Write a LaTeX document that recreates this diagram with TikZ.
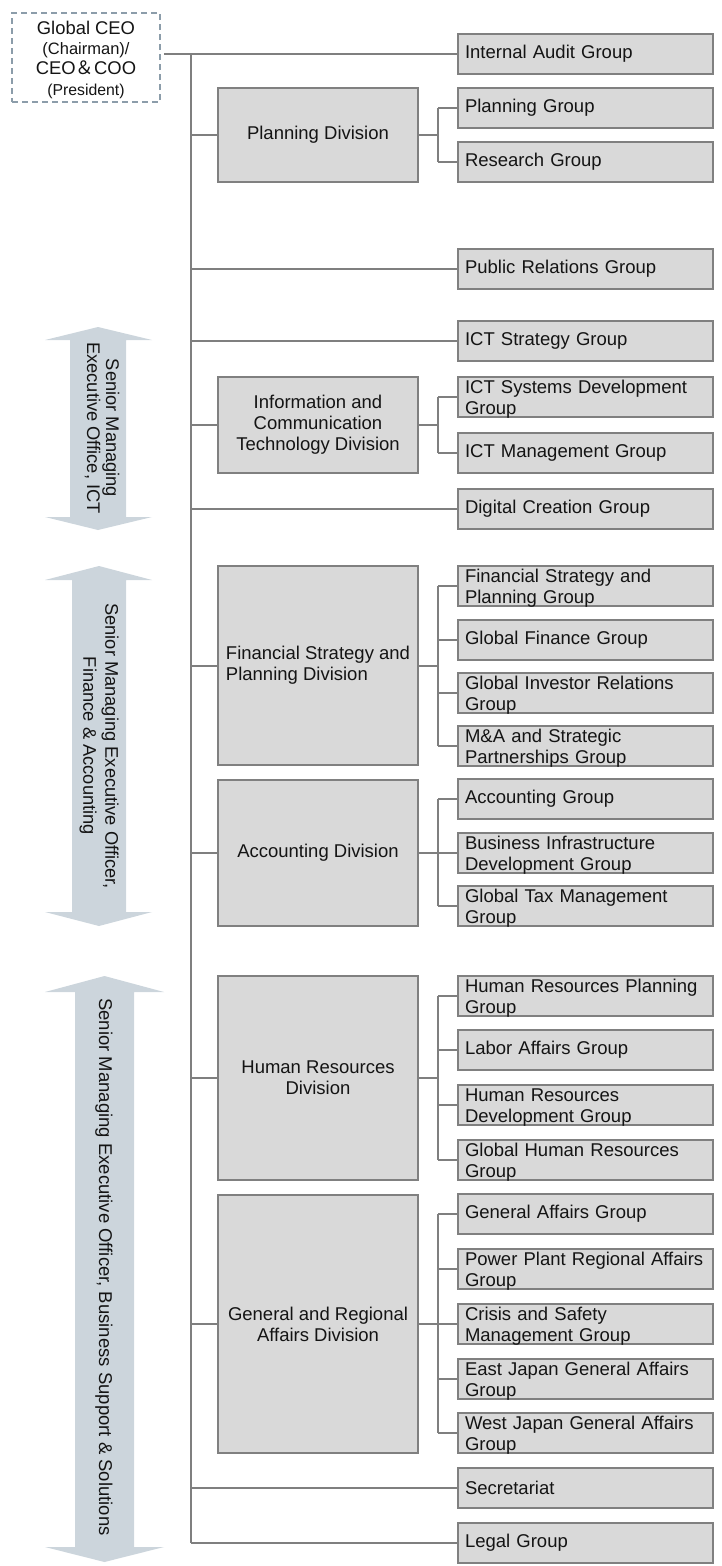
\documentclass[tikz,border=0pt]{standalone}
\usepackage{fontspec}
\setmainfont{Liberation Sans}
\newfontfamily\cjk{Noto Sans CJK JP}
\definecolor{boxfill}{RGB}{217,217,217}
\definecolor{boxline}{RGB}{128,128,128}
\definecolor{connc}{RGB}{127,127,127}
\definecolor{ceoline}{RGB}{140,157,170}
\definecolor{arrowfill}{RGB}{204,213,220}
\definecolor{txt}{RGB}{20,20,20}
\newcommand\divlinks[3]{%
  \draw[conn] (#1.east) -- (jx |- #1.east);
  \draw[conn] (jx |- #2.west) -- (jx |- #3.west);}
\newcommand\grpend{\par\vspace*{-5pt}}
\begin{document}
\begin{tikzpicture}[x=1pt,y=-1pt,
  every node/.style={text=txt, font=\fontsize{18.5}{21}\selectfont},
  grp/.style={draw=boxline, fill=boxfill, line width=1.5pt, minimum width=255pt, minimum height=40pt, inner xsep=7pt, inner ysep=0pt, text width=241pt, align=left},
  grptwo/.style={grp, execute at end node=\grpend},
  div/.style={draw=boxline, fill=boxfill, line width=1.5pt, minimum width=200pt, align=center, inner sep=0pt},
  ceobox/.style={draw=ceoline, line width=1.5pt, dash pattern=on 6pt off 4pt, minimum width=148pt, minimum height=89pt},
  conn/.style={draw=connc, line width=2pt},
  trunkline/.style={draw=connc, line width=2.6pt},
  sidetxt/.style={rotate=-90, align=center},
  arrowbody/.style={fill=arrowfill}
]
\useasboundingbox (0,0) rectangle (721,1566);

% side arrows
\fill[arrowbody] (98,327) -- (152,340) -- (126,340) -- (126,517) -- (152,517) -- (98,530) -- (45,517) -- (70,517) -- (70,340) -- (45,340) -- cycle;
\fill[arrowbody] (99,566) -- (152,580) -- (126,580) -- (126,912) -- (152,912) -- (99,926) -- (45,912) -- (72,912) -- (72,580) -- (45,580) -- cycle;
\fill[arrowbody] (104.5,976) -- (164,992) -- (134,992) -- (134,1547) -- (164,1547) -- (104.5,1562) -- (45,1547) -- (75,1547) -- (75,992) -- (45,992) -- cycle;
\node[sidetxt, font=\fontsize{18.3}{19}\selectfont] (a1t) at (102,428) {Senior Managing\\Executive Office, ICT};
\node[sidetxt, font=\fontsize{18.3}{22}\selectfont] (a2t) at (99,746) {Senior Managing Executive Officer,\\Finance \& Accounting};
\node[sidetxt] (a3t) at (104,1267) {Senior Managing Executive Officer, Business Support \& Solutions};

% CEO
\node[ceobox] (ceo) at (86,57.5) {};
\node[anchor=base, font=\fontsize{18.4}{20}\selectfont] (ceo1) at (86,34) {Global CEO};
\node[anchor=base, font=\fontsize{16.5}{18}\selectfont] (ceo2) at (86,54) {(Chairman)/};
\node[anchor=base, font=\fontsize{18.4}{20}\selectfont] (ceo3) at (86,74) {CEO{\cjk ＆}COO};
\node[anchor=base, font=\fontsize{15.8}{18}\selectfont] (ceo4) at (86,95) {(President)};

% groups
\node[grp] (ia) at (585.5,54) {Internal Audit Group};
\node[grp] (pg) at (585.5,108) {Planning Group};
\node[grp] (rg) at (585.5,162) {Research Group};
\node[grp] (pr) at (585.5,269) {Public Relations Group};
\node[grp] (icts) at (585.5,341) {ICT Strategy Group};
\node[grptwo] (ictsd) at (585.5,397) {ICT Systems Development\\Group};
\node[grp] (ictm) at (585.5,453) {ICT Management Group};
\node[grp] (dcg) at (585.5,509) {Digital Creation Group};
\node[grptwo] (fsg) at (585.5,586) {Financial Strategy and\\Planning Group};
\node[grp] (gfg) at (585.5,640) {Global Finance Group};
\node[grptwo] (gir) at (585.5,693) {Global Investor Relations\\Group};
\node[grptwo] (mag) at (585.5,746) {M\&A and Strategic\\Partnerships Group};
\node[grp] (acg) at (585.5,799) {Accounting Group};
\node[grptwo] (bid) at (585.5,853) {Business Infrastructure\\Development Group};
\node[grptwo] (gtm) at (585.5,906) {Global Tax Management\\Group};
\node[grptwo] (hrp) at (585.5,996) {Human Resources Planning\\Group};
\node[grp] (lag) at (585.5,1050) {Labor Affairs Group};
\node[grptwo] (hrdg) at (585.5,1105) {Human Resources\\Development Group};
\node[grptwo] (ghr) at (585.5,1160) {Global Human Resources\\Group};
\node[grp] (gag) at (585.5,1214) {General Affairs Group};
\node[grptwo] (ppr) at (585.5,1269) {Power Plant Regional Affairs\\Group};
\node[grptwo] (csm) at (585.5,1324) {Crisis and Safety\\Management Group};
\node[grptwo] (ejg) at (585.5,1379) {East Japan General Affairs\\Group};
\node[grptwo] (wjg) at (585.5,1433) {West Japan General Affairs\\Group};
\node[grp] (sec) at (585.5,1488) {Secretariat};
\node[grp] (lg) at (585.5,1543) {Legal Group};

% divisions
\node[div, minimum height=94pt] (pd) at (318,135) {Planning Division};
\node[div, minimum height=96pt] (ictd) at (318,425) {Information and\\Communication\\Technology Division};
\node[div, minimum height=199pt, align=left] (fsd) at (318,665.5) {Financial Strategy and\\Planning Division};
\node[div, minimum height=146pt] (acd) at (318,853) {Accounting Division};
\node[div, minimum height=204pt] (hrd) at (318,1078) {Human Resources\\Division};
\node[div, minimum height=258pt] (gad) at (318,1324) {General and Regional\\Affairs Division};

% connectors
\coordinate (trunk) at (191,54);
\coordinate (jx) at (438,0);
\draw[conn] ([xshift=3pt]ceo.east |- ia.west) -- (ia.west);
\draw[trunkline] (trunk) -- (trunk |- lg.west);
\foreach \n in {pd,pr,icts,ictd,dcg,fsd,acd,hrd,gad,sec,lg}
  \draw[conn] (trunk |- \n.west) -- (\n.west);
\divlinks{pd}{pg}{rg}
\divlinks{ictd}{ictsd}{ictm}
\divlinks{fsd}{fsg}{mag}
\divlinks{acd}{acg}{gtm}
\divlinks{hrd}{hrp}{ghr}
\divlinks{gad}{gag}{wjg}
\foreach \g in {pg,rg,ictsd,ictm,fsg,gfg,gir,mag,acg,bid,gtm,hrp,lag,hrdg,ghr,gag,ppr,csm,ejg,wjg}
  \draw[conn] (jx |- \g.west) -- (\g.west);
\end{tikzpicture}
\end{document}
